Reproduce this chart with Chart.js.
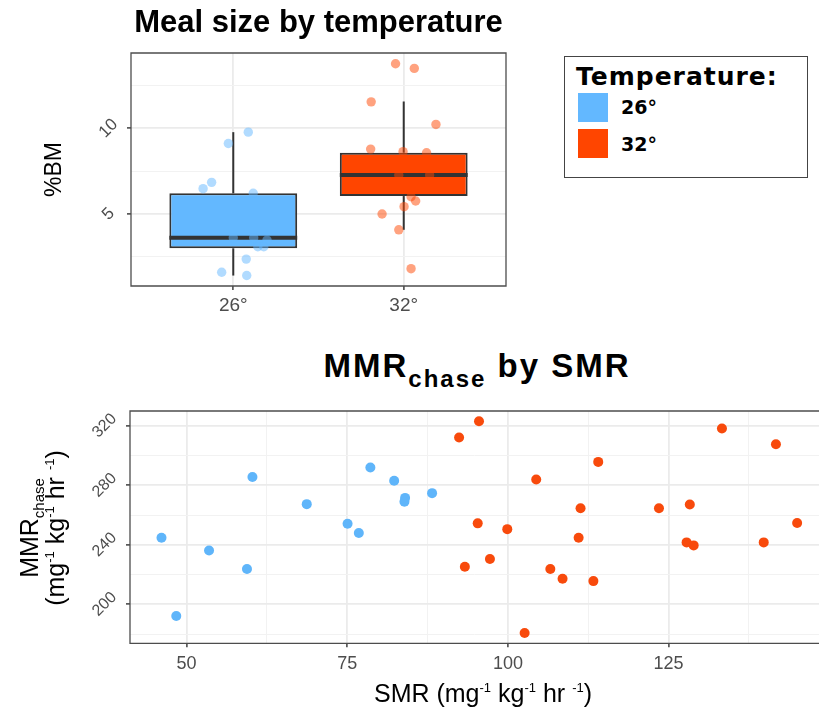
<!DOCTYPE html>
<html lang="en">
<head>
<meta charset="UTF-8">
<title>Meal size by temperature / MMR chase by SMR</title>
<script src="https://cdn.jsdelivr.net/npm/chart.js@4.4.1/dist/chart.umd.min.js"></script>
<style>
    body { margin: 0; background: #fff; font-family: "Liberation Sans", Arial, sans-serif; }
    .pagina { position: relative; width: 819px; height: 709px; overflow: hidden; background: #fff; }
    #graficoA { position: absolute; left: 0; top: 0; }
    #graficoB { position: absolute; left: 0; top: 400px; }

    .legenda { position: absolute; left: 564px; top: 56px; width: 242px; height: 120px; border: 1.5px solid #444; }
    .leg-titulo { position: absolute; left: 576px; top: 64px; font: bold 25px/25px "DejaVu Sans", sans-serif; letter-spacing: 1px; color: #000; white-space: nowrap; }
    .leg-cor { position: absolute; left: 578px; width: 30px; height: 29px; }
    .leg-txt { position: absolute; left: 621px; font: bold 19px/19px "DejaVu Sans", sans-serif; color: #000; white-space: nowrap; }

    .titulo-b { position: absolute; left: 177px; top: 349px; width: 600px; text-align: center; font: bold 33px/33px "Liberation Sans", Arial, sans-serif; letter-spacing: 2px; color: #000; white-space: nowrap; }
    .titulo-b .sub { font-size: 24px; line-height: 0; position: relative; top: 10px; }

    .eixo-x-b { position: absolute; left: 283px; top: 678px; width: 400px; text-align: center; font: 25px/30px "Liberation Sans", Arial, sans-serif; color: #000; white-space: nowrap; }
    .eixo-y-b { position: absolute; left: -58px; top: 502px; width: 200px; height: 52px; text-align: center; font: 25px/26px "Liberation Sans", Arial, sans-serif; color: #000; white-space: nowrap; transform: rotate(-90deg); }
    .sup { font-size: 13px; line-height: 0; position: relative; top: -10px; }
    .sub2 { font-size: 15px; line-height: 0; position: relative; top: 6px; }
</style>
</head>

<body>
<div class="pagina">
    <canvas id="graficoA" width="520" height="330"></canvas>
    <canvas id="graficoB" width="819" height="309"></canvas>

    <div class="legenda"></div>
    <div class="leg-titulo">Temperature:</div>
    <div class="leg-cor" style="top: 93px; background: #63B8FF;"></div>
    <div class="leg-txt" style="top: 98px;">26°</div>
    <div class="leg-cor" style="top: 129px; background: #FF4500;"></div>
    <div class="leg-txt" style="top: 135px;">32°</div>

    <div class="titulo-b">MMR<span class="sub">chase</span> by SMR</div>
    <div class="eixo-x-b">SMR (mg<span class="sup">-1</span> kg<span class="sup">-1</span> hr <span class="sup">-1</span>)</div>
    <div class="eixo-y-b">MMR<span class="sub2">chase</span><br>(mg<span class="sup">-1</span> kg<span class="sup">-1</span> hr <span class="sup">-1</span>)</div>
</div>

<script>
    // ---- painel A: tamanho da refeição (%BM) por temperatura ----
    var categorias = ['26°', '32°'];
    var bigodeMin = [1.41, 4.08];
    var quartil1 = [3.0, 6.05];
    var mediana = [3.62, 7.28];
    var quartil3 = [6.21, 8.58];
    var bigodeMax = [9.78, 11.57];

    // pontos com jitter (deslocamento em unidades de categoria)
    var jitter26 = [0.088, -0.029, -0.127, -0.177, 0.117, 0.0, 0.12, 0.198, 0.144, 0.179, 0.076, -0.068, 0.079];
    var refeicao26 = [9.78, 9.12, 6.85, 6.48, 6.21, 3.62, 3.62, 3.48, 3.09, 3.09, 2.37, 1.60, 1.41];
    var jitter32 = [-0.048, 0.062, -0.191, 0.189, -0.194, -0.004, 0.134, -0.029, 0.152, 0.043, 0.07, 0.002, -0.127, -0.029, 0.043];
    var refeicao32 = [13.77, 13.50, 11.55, 10.23, 8.79, 8.64, 8.58, 7.28, 7.28, 6.01, 5.76, 5.43, 5.00, 4.08, 1.81];

    var ticksBM = [5, 10];

    // ---- painel B: MMR chase por SMR ----
    var smr26 = [46.1, 60.25, 53.5, 59.4, 48.4, 68.7, 75.05, 76.8, 78.6, 82.3, 84.0, 83.9, 88.2];
    var mmr26 = [244.7, 285.6, 236.2, 223.7, 192.1, 267.3, 254.1, 247.9, 291.9, 283.0, 271.5, 268.9, 274.7];
    var smr32 = [95.5, 92.4, 104.4, 95.3, 99.9, 97.2, 93.3, 102.6, 106.6, 133.3, 141.7, 114.05, 111.3, 123.5, 128.3, 145.0, 111.0, 127.8, 128.9, 139.8, 108.5, 113.3];
    var mmr32 = [323.0, 312.1, 283.9, 254.4, 250.5, 230.4, 225.2, 180.7, 223.7, 318.1, 307.6, 295.7, 264.6, 264.6, 267.1, 254.6, 244.7, 241.6, 239.6, 241.6, 217.2, 215.6];

    var ticksSMR = [50, 75, 100, 125];
    var ticksMMR = [200, 240, 280, 320];

    var azul = '#63B8FF';
    var laranja = '#FF4500';
    var escuro = '#333333';

    Chart.defaults.font.family = "'Liberation Sans', Arial, sans-serif";
    Chart.defaults.color = '#4d4d4d';

    // borda do painel (estilo ggplot theme_bw)
    var bordaPainel = {
        id: 'bordaPainel',
        afterDatasetsDraw: function (chart, args, opts) {
            var a = chart.chartArea;
            var ctx = chart.ctx;
            ctx.save();
            ctx.strokeStyle = '#4d4d4d';
            ctx.lineWidth = 1.3;
            ctx.beginPath();
            if (opts.semDireita) {
                ctx.moveTo(a.right, a.top);
                ctx.lineTo(a.left, a.top);
                ctx.lineTo(a.left, a.bottom);
                ctx.lineTo(a.right, a.bottom);
            } else {
                ctx.rect(a.left, a.top, a.right - a.left, a.bottom - a.top);
            }
            ctx.stroke();
            ctx.restore();
        }
    };

    function grade(principais) {
        function maior(c) { return c.tick && principais.indexOf(c.tick.value) >= 0; }
        return {
            color: function (c) { return maior(c) ? '#ebebeb' : '#f2f2f2'; },
            lineWidth: function (c) { return maior(c) ? 1.8 : 1; },
            tickColor: function (c) { return maior(c) ? escuro : 'rgba(0,0,0,0)'; },
            tickLength: 4,
            tickWidth: 1.4
        };
    }

    // ---- monta o gráfico A ----
    var dadosA = [];

    dadosA.push({
        label: '26°', order: 0, pointRadius: 4.7, borderWidth: 0,
        backgroundColor: 'rgba(99, 184, 255, 0.5)',
        data: refeicao26.map(function (v, i) { return { x: 0 + jitter26[i], y: v }; })
    });
    dadosA.push({
        label: '32°', order: 0, pointRadius: 4.7, borderWidth: 0,
        backgroundColor: 'rgba(255, 69, 0, 0.5)',
        data: refeicao32.map(function (v, i) { return { x: 1 + jitter32[i], y: v }; })
    });

    categorias.forEach(function (c, i) {
        dadosA.push({
            label: 'mediana ' + c, order: 1, showLine: true, pointRadius: 0,
            borderColor: escuro, borderWidth: 4,
            data: [{ x: i - 0.375, y: mediana[i] }, { x: i + 0.375, y: mediana[i] }]
        });
        dadosA.push({
            label: 'bigode sup ' + c, order: 2, showLine: true, pointRadius: 0,
            borderColor: escuro, borderWidth: 2,
            data: [{ x: i, y: quartil3[i] }, { x: i, y: bigodeMax[i] }]
        });
        dadosA.push({
            label: 'bigode inf ' + c, order: 2, showLine: true, pointRadius: 0,
            borderColor: escuro, borderWidth: 2,
            data: [{ x: i, y: bigodeMin[i] }, { x: i, y: quartil1[i] }]
        });
    });

    dadosA.push({
        type: 'bar', label: 'caixa', order: 3,
        backgroundColor: [azul, laranja], borderColor: escuro, borderWidth: 2,
        borderSkipped: false, categoryPercentage: 1, barPercentage: 0.75,
        data: categorias.map(function (c, i) { return { x: i, y: [quartil1[i], quartil3[i]] }; })
    });

    new Chart(document.getElementById('graficoA'), {
        type: 'scatter',
        data: { datasets: dadosA },
        plugins: [bordaPainel],
        options: {
            responsive: false,
            animation: false,
            events: [],
            layout: { autoPadding: false, padding: { left: 0, right: 14, top: 0, bottom: 0 } },
            plugins: {
                legend: { display: false },
                tooltip: { enabled: false },
                bordaPainel: { semDireita: false },
                title: {
                    display: true, fullSize: false,
                    text: 'Meal size by temperature',
                    color: '#000',
                    font: { size: 31, weight: 'bold' },
                    padding: { top: 4.7, bottom: 11.1 }
                }
            },
            scales: {
                x: {
                    type: 'linear', min: -0.6, max: 1.6, offset: false,
                    afterFit: function (s) { s.height = 44; s.paddingLeft = 0; s.paddingRight = 0; },
                    border: { display: false },
                    grid: Object.assign(grade([0, 1]), { offset: false }),
                    ticks: {
                        stepSize: 1, includeBounds: false, padding: 4,
                        font: { size: 19 }, color: '#4d4d4d',
                        callback: function (v) { return categorias[v] !== undefined ? categorias[v] : ''; }
                    }
                },
                y: {
                    type: 'linear', min: 0.8, max: 14.4,
                    afterFit: function (s) { s.width = 131; s.paddingTop = 0; s.paddingBottom = 0; },
                    border: { display: false },
                    grid: grade(ticksBM),
                    title: {
                        display: true, text: '%BM', color: '#000',
                        font: { size: 23 }, padding: { top: 41, bottom: 0 }
                    },
                    ticks: {
                        stepSize: 2.5, includeBounds: false, padding: 9,
                        minRotation: 45, maxRotation: 45, crossAlign: 'center',
                        font: { size: 17 }, color: '#4d4d4d',
                        callback: function (v) { return ticksBM.indexOf(v) >= 0 ? String(v) : ''; }
                    }
                }
            }
        }
    });

    // ---- monta o gráfico B ----
    new Chart(document.getElementById('graficoB'), {
        type: 'scatter',
        data: {
            datasets: [{
                label: '26°', pointRadius: 5, borderWidth: 0,
                backgroundColor: '#5fb5fa',
                data: smr26.map(function (v, i) { return { x: v, y: mmr26[i] }; })
            }, {
                label: '32°', pointRadius: 5, borderWidth: 0,
                backgroundColor: '#f84a0c',
                data: smr32.map(function (v, i) { return { x: v, y: mmr32[i] }; })
            }]
        },
        plugins: [bordaPainel],
        options: {
            responsive: false,
            animation: false,
            events: [],
            layout: { autoPadding: false, padding: { left: 0, right: 0, top: 11, bottom: 0 } },
            plugins: {
                legend: { display: false },
                tooltip: { enabled: false },
                bordaPainel: { semDireita: true }
            },
            scales: {
                x: {
                    type: 'linear', min: 41.2, max: 148.4,
                    afterFit: function (s) { s.height = 65.7; s.paddingLeft = 0; s.paddingRight = 0; },
                    border: { display: false },
                    grid: grade(ticksSMR),
                    ticks: {
                        stepSize: 12.5, includeBounds: false, padding: 6,
                        font: { size: 18 }, color: '#4d4d4d',
                        callback: function (v) { return ticksSMR.indexOf(v) >= 0 ? String(v) : ''; }
                    }
                },
                y: {
                    type: 'linear', min: 173.8, max: 329.9,
                    afterFit: function (s) { s.width = 130; s.paddingTop = 0; s.paddingBottom = 0; },
                    border: { display: false },
                    grid: grade(ticksMMR),
                    ticks: {
                        stepSize: 20, includeBounds: false, padding: 8,
                        minRotation: 45, maxRotation: 45, crossAlign: 'center',
                        font: { size: 16 }, color: '#4d4d4d',
                        callback: function (v) { return ticksMMR.indexOf(v) >= 0 ? String(v) : ''; }
                    }
                }
            }
        }
    });
</script>
</body>
</html>
